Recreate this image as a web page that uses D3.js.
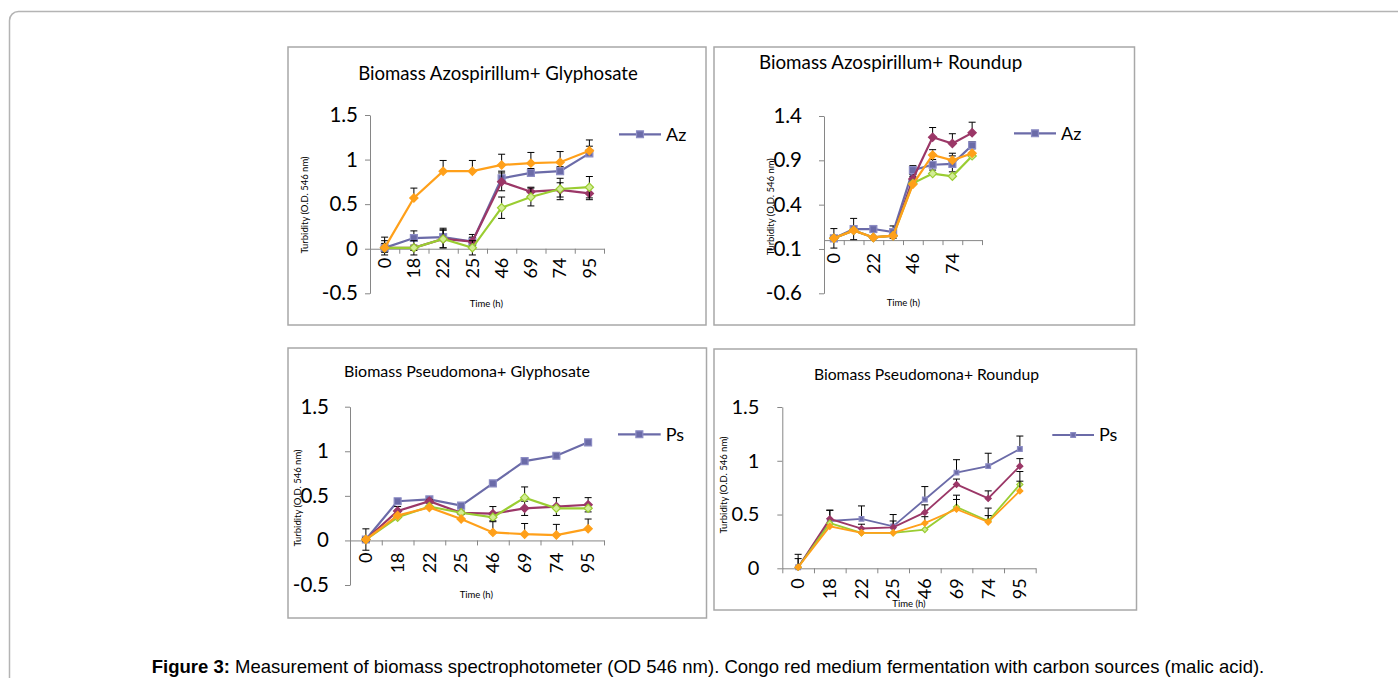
<!DOCTYPE html>
<html>
<head>
<meta charset="utf-8">
<script src="https://cdn.jsdelivr.net/npm/d3@7"></script>
<style>
  body { margin: 0; background: #fff; }
  svg { display: block; }
</style>
</head>
<body>
<svg id="fig" width="1398" height="678"></svg>
<script>
// categories (hours)
const hours = ['0', '18', '22', '25', '46', '69', '74', '95'];

// Azospirillum + Glyphosate
const azGlyS1 = [0.01, 0.12, 0.13, 0.08, 0.79, 0.85, 0.87, 1.07];
const azGlyS2 = [0.01, 0.01, 0.11, 0.08, 0.75, 0.64, 0.66, 0.62];
const azGlyS3 = [0.01, 0.01, 0.11, 0.01, 0.46, 0.58, 0.67, 0.69];
const azGlyS4 = [0.01, 0.57, 0.87, 0.87, 0.94, 0.96, 0.97, 1.10];
const azGlyE1 = [0.12, 0.08, 0.10, 0.08, 0.08, 0.05, 0.05, 0.08];
const azGlyE2 = [0.05, 0.03, 0.10, 0.05, 0.10, 0.05, 0.08, 0.07];
const azGlyE3 = [0.08, 0.08, 0.10, 0.08, 0.12, 0.10, 0.12, 0.12];
const azGlyE4 = [0.01, 0.11, 0.12, 0.12, 0.12, 0.12, 0.12, 0.12];
const azGlyTicks = [-0.5, 0, 0.5, 1, 1.5];

// Azospirillum + Roundup
const azRuS1 = [0.02, 0.125, 0.125, 0.09, 0.79, 0.85, 0.86, 1.07];
const azRuS2 = [0.02, 0.11, 0.03, 0.05, 0.69, 1.16, 1.09, 1.21];
const azRuS3 = [0.02, 0.11, 0.03, 0.05, 0.64, 0.75, 0.72, 0.95];
const azRuS4 = [0.02, 0.11, 0.03, 0.05, 0.63, 0.96, 0.90, 0.98];
const azRuE1 = [0.11, 0.12, 0.04, 0.07, 0.05, 0.06, 0.09, 0.04];
const azRuE2 = [0, 0, 0, 0, 0.03, 0.11, 0.11, 0.12];
const azRuE3 = [0, 0, 0, 0, 0, 0, 0, 0];
const azRuE4 = [0, 0, 0, 0, 0, 0.06, 0.08, 0];
const azRuTicks = [-0.6, -0.1, 0.4, 0.9, 1.4];

// Pseudomona + Glyphosate
const psGlyS1 = [0.01, 0.44, 0.46, 0.39, 0.64, 0.89, 0.95, 1.10];
const psGlyS2 = [0.01, 0.33, 0.44, 0.31, 0.30, 0.36, 0.38, 0.40];
const psGlyS3 = [0.01, 0.26, 0.38, 0.31, 0.26, 0.48, 0.36, 0.36];
const psGlyS4 = [0.01, 0.28, 0.37, 0.24, 0.09, 0.07, 0.06, 0.13];
const psGlyE1 = [0.12, 0.03, 0.03, 0.02, 0.03, 0.02, 0.02, 0.03];
const psGlyE2 = [0.02, 0.05, 0.02, 0.02, 0.08, 0.08, 0.10, 0.08];
const psGlyE3 = [0, 0, 0, 0, 0, 0.12, 0, 0];
const psGlyE4 = [0, 0, 0, 0, 0.12, 0.12, 0.12, 0.11];
const psGlyTicks = [-0.5, 0, 0.5, 1, 1.5];

// Pseudomona + Roundup
const psRuS1 = [0.01, 0.44, 0.46, 0.39, 0.64, 0.89, 0.95, 1.11];
const psRuS2 = [0.01, 0.46, 0.37, 0.38, 0.52, 0.78, 0.65, 0.95];
const psRuS3 = [0.01, 0.42, 0.33, 0.33, 0.36, 0.57, 0.44, 0.78];
const psRuS4 = [0.01, 0.39, 0.33, 0.33, 0.42, 0.55, 0.43, 0.72];
const psRuE1 = [0.12, 0.10, 0.12, 0.11, 0.12, 0.12, 0.12, 0.12];
const psRuE2 = [0.08, 0.08, 0.04, 0.06, 0.07, 0.05, 0.07, 0.07];
const psRuE3 = [0, 0, 0, 0, 0, 0.11, 0.12, 0.12];
const psRuE4 = [0, 0, 0, 0, 0.06, 0.09, 0.06, 0.09];
const psRuTicks = [0, 0.5, 1, 1.5];

const font = "Lato, 'Open Sans', sans-serif";
const axisColor = '#868686';
const purple = '#6B6BA8', maroon = '#9B3767', green = '#9ACD32', orange = '#FFA01A';

const svg = d3.select('#fig');

// outer figure frame (rounded, runs off right/bottom)
svg.append('rect')
  .attr('x', 9.5).attr('y', 11.5)
  .attr('width', 1420).attr('height', 720)
  .attr('rx', 9)
  .attr('fill', 'none')
  .attr('stroke', '#b4b4b4')
  .attr('stroke-width', 1.5);

function seriesStyles(small) {
  const sq = small ? 22 : 48;
  const dm = small ? 18 : 34;
  return [
    { color: purple, shape: 'square', size: sq, fill: purple, stroke: '#8C8CC4' },
    { color: maroon, shape: 'diamond', size: dm, fill: maroon, stroke: maroon },
    { color: green, shape: 'diamond', size: dm, fill: '#D2EC96', stroke: green },
    { color: orange, shape: 'diamond', size: dm, fill: orange, stroke: orange }
  ];
}

// diamonds are squares turned 45deg (like Excel's markers)
function marker(size) {
  return d3.symbol().type(d3.symbolSquare).size(size)();
}

function drawPanel(p) {
  const g = svg.append('g');
  g.append('rect')
    .attr('x', p.box[0]).attr('y', p.box[1])
    .attr('width', p.box[2] - p.box[0]).attr('height', p.box[3] - p.box[1])
    .attr('fill', '#fff')
    .attr('stroke', '#a8a8a8')
    .attr('stroke-width', 1.5);

  const x = d3.scaleBand().domain(hours).range(p.xRange);
  const xEdge = d3.scaleLinear().domain([0, hours.length]).range(p.xRange);
  const y = d3.scaleLinear().domain(p.yDomain).range(p.yRange);

  // Y axis
  g.append('g')
    .attr('transform', 'translate(' + p.xRange[0] + ',0)')
    .call(d3.axisLeft(y).tickValues(p.yTicks).tickFormat(d => String(d))
      .tickSize(5).tickSizeOuter(0).tickPadding(p.yPad))
    .call(a => {
      a.attr('font-family', font).attr('font-size', p.yTickFont);
      a.select('.domain').attr('stroke', axisColor);
      a.selectAll('.tick line').attr('stroke', axisColor);
      a.selectAll('.tick text').attr('fill', '#000');
    });

  // X axis at the crossing value
  const xg = g.append('g').attr('transform', 'translate(0,' + y(p.cross) + ')');
  xg.append('g')
    .call(d3.axisBottom(xEdge).tickValues(d3.range(hours.length + 1)).tickFormat('')
      .tickSize(5).tickSizeOuter(0))
    .call(a => {
      a.select('.domain').attr('stroke', axisColor);
      a.selectAll('.tick line').attr('stroke', axisColor);
    });
  xg.append('g')
    .call(d3.axisBottom(x).tickSize(0).tickFormat((d, i) => i % p.xEvery === 0 ? d : ''))
    .call(a => {
      a.attr('font-family', font).attr('font-size', 18);
      a.select('.domain').remove();
      a.selectAll('.tick text')
        .attr('fill', '#000')
        .attr('transform', 'rotate(-90)')
        .attr('x', -p.xPad).attr('y', 0)
        .attr('dy', '0.35em')
        .attr('text-anchor', 'end');
    });

  // axis titles
  g.append('text')
    .attr('transform', 'translate(' + p.yTitle[0] + ',' + p.yTitle[1] + ') rotate(-90)')
    .attr('text-anchor', 'middle').attr('dy', '0.35em')
    .attr('font-family', font).attr('font-size', 9.5)
    .text('Turbidity (O.D. 546 nm)');
  g.append('text')
    .attr('x', p.xTitle[0]).attr('y', p.xTitle[1])
    .attr('text-anchor', 'middle').attr('dy', '0.35em')
    .attr('font-family', font).attr('font-size', 9.5)
    .text('Time (h)');

  // chart title
  g.append('text')
    .attr('x', p.title[0]).attr('y', p.title[1])
    .attr('text-anchor', p.titleAnchor).attr('dy', '0.35em')
    .attr('font-family', font).attr('font-size', p.titleSize)
    .text(p.titleText);

  const styles = seriesStyles(p.small);
  const cx = d => x(d.h) + x.bandwidth() / 2;

  p.series.forEach((s, si) => {
    const st = styles[si];
    const pts = hours.map((h, i) => ({ h: h, v: s.values[i], e: s.err[i] }));
    const eg = g.append('g').attr('stroke', '#000').attr('stroke-width', 1);
    pts.filter(d => d.e > 0).forEach(d => {
      const top = y(d.v + d.e);
      const bot = s.both ? y(d.v - d.e) : y(d.v);
      eg.append('line').attr('x1', cx(d)).attr('x2', cx(d)).attr('y1', top).attr('y2', bot);
      eg.append('line').attr('x1', cx(d) - 3.5).attr('x2', cx(d) + 3.5).attr('y1', top).attr('y2', top);
      if (s.both) {
        eg.append('line').attr('x1', cx(d) - 3.5).attr('x2', cx(d) + 3.5).attr('y1', bot).attr('y2', bot);
      }
    });
    g.append('path')
      .datum(pts)
      .attr('fill', 'none')
      .attr('stroke', st.color)
      .attr('stroke-width', p.small ? 1.8 : 2.2)
      .attr('d', d3.line().x(cx).y(d => y(d.v)));
    g.selectAll(null)
      .data(pts)
      .enter()
      .append('path')
      .attr('d', marker(st.size))
      .attr('transform', d => 'translate(' + cx(d) + ',' + y(d.v) + ')' + (st.shape === 'diamond' ? ' rotate(45)' : ''))
      .attr('fill', st.fill)
      .attr('stroke', st.stroke)
      .attr('stroke-width', 1.2);
  });

  // legend (first series only)
  const st = styles[0];
  const lg = g.append('g');
  lg.append('line')
    .attr('x1', p.legend[0]).attr('x2', p.legend[1])
    .attr('y1', p.legend[2]).attr('y2', p.legend[2])
    .attr('stroke', st.color).attr('stroke-width', 2.2);
  lg.append('path')
    .attr('d', marker(st.size))
    .attr('transform', 'translate(' + (p.legend[0] + p.legend[1]) / 2 + ',' + p.legend[2] + ')')
    .attr('fill', st.fill).attr('stroke', st.stroke).attr('stroke-width', 1.2);
  lg.append('text')
    .attr('x', p.legend[1] + 5).attr('y', p.legend[2])
    .attr('dy', '0.35em')
    .attr('font-family', font).attr('font-size', 18)
    .text(p.legendText);
}

drawPanel({
  box: [288, 47, 706, 325],
  xRange: [370, 604], yRange: [293.3, 115], yDomain: [-0.5, 1.5], yTicks: azGlyTicks,
  cross: 0, yPad: 7, xPad: 9, xEvery: 1, yTickFont: 20.5, small: false,
  title: [498, 73.5], titleAnchor: 'middle', titleSize: 18.6, titleText: 'Biomass Azospirillum+ Glyphosate',
  yTitle: [304.7, 205], xTitle: [486.3, 303.3],
  legend: [619, 661, 134.3], legendText: 'Az',
  series: [
    { values: azGlyS1, err: azGlyE1, both: false },
    { values: azGlyS2, err: azGlyE2, both: true },
    { values: azGlyS3, err: azGlyE3, both: true },
    { values: azGlyS4, err: azGlyE4, both: false }
  ]
});

drawPanel({
  box: [714, 47, 1134.5, 325],
  xRange: [824, 982], yRange: [293.3, 116], yDomain: [-0.6, 1.4], yTicks: azRuTicks,
  cross: 0, yPad: 17, xPad: 13, xEvery: 2, yTickFont: 20.5, small: false,
  title: [759, 62.3], titleAnchor: 'start', titleSize: 18.8, titleText: 'Biomass Azospirillum+ Roundup',
  yTitle: [770.7, 206.7], xTitle: [903.3, 302.7],
  legend: [1014, 1056, 133.3], legendText: 'Az',
  series: [
    { values: azRuS1, err: azRuE1, both: true },
    { values: azRuS2, err: azRuE2, both: false },
    { values: azRuS3, err: azRuE3, both: false },
    { values: azRuS4, err: azRuE4, both: false }
  ]
});

drawPanel({
  box: [288, 348, 706.5, 618],
  xRange: [350, 604], yRange: [585, 406.7], yDomain: [-0.5, 1.5], yTicks: psGlyTicks,
  cross: 0, yPad: 16, xPad: 12, xEvery: 1, yTickFont: 20.5, small: false,
  title: [467, 371], titleAnchor: 'middle', titleSize: 16, titleText: 'Biomass Pseudomona+ Glyphosate',
  yTitle: [298, 498], xTitle: [476.3, 594.3],
  legend: [618, 660.7, 434.3], legendText: 'Ps',
  series: [
    { values: psGlyS1, err: psGlyE1, both: true },
    { values: psGlyS2, err: psGlyE2, both: true },
    { values: psGlyS3, err: psGlyE3, both: false },
    { values: psGlyS4, err: psGlyE4, both: false }
  ]
});

drawPanel({
  box: [714, 349, 1136.5, 610],
  xRange: [782.3, 1035.7], yRange: [568.3, 407], yDomain: [0, 1.5], yTicks: psRuTicks,
  cross: 0, yPad: 18, xPad: 10, xEvery: 1, yTickFont: 20, small: true,
  title: [926.5, 374.3], titleAnchor: 'middle', titleSize: 15.7, titleText: 'Biomass Pseudomona+ Roundup',
  yTitle: [724, 485], xTitle: [909, 603.3],
  legend: [1052.3, 1094, 435], legendText: 'Ps',
  series: [
    { values: psRuS1, err: psRuE1, both: false },
    { values: psRuS2, err: psRuE2, both: false },
    { values: psRuS3, err: psRuE3, both: false },
    { values: psRuS4, err: psRuE4, both: false }
  ]
});

// caption
const cap = svg.append('text')
  .attr('x', 708).attr('y', 672.5)
  .attr('text-anchor', 'middle')
  .attr('font-family', "'Liberation Sans', Arial, sans-serif")
  .attr('font-size', 18.5);
cap.append('tspan').attr('font-weight', 'bold').text('Figure 3:');
cap.append('tspan').text(' Measurement of biomass spectrophotometer (OD 546 nm). Congo red medium fermentation with carbon sources (malic acid).');
</script>
</body>
</html>
